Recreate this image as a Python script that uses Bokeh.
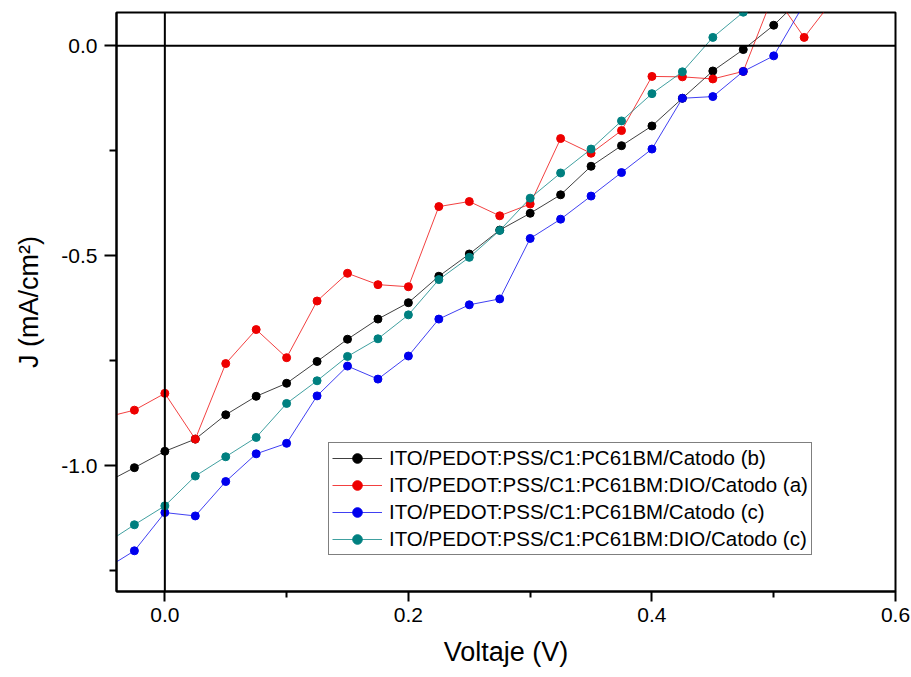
from bokeh.plotting import figure
from bokeh.models import Range1d, FixedTicker, NumeralTickFormatter, Span, Legend, LegendItem
from bokeh.embed import file_html
from bokeh.resources import INLINE

# Voltage (V)
voltaje = [-0.05, -0.025, 0.0, 0.025, 0.05, 0.075, 0.1, 0.125, 0.15, 0.175, 0.2,
           0.225, 0.25, 0.275, 0.3, 0.325, 0.35, 0.375, 0.4, 0.425, 0.45, 0.475,
           0.5, 0.525, 0.55]

# J (mA/cm^2)
j_b = [-1.043, -1.005, -0.966, -0.937, -0.879, -0.835, -0.804, -0.752, -0.699, -0.651,
       -0.612, -0.549, -0.496, -0.439, -0.399, -0.355, -0.287, -0.238, -0.191, -0.125,
       -0.060, -0.009, 0.049, 0.12]
j_a = [-0.886, -0.868, -0.828, -0.937, -0.757, -0.676, -0.743, -0.608, -0.542, -0.569,
       -0.574, -0.383, -0.371, -0.405, -0.377, -0.221, -0.256, -0.202, -0.073, -0.074,
       -0.079, -0.061, 0.124, 0.020, 0.114]
j_c1 = [-1.248, -1.203, -1.112, -1.120, -1.038, -0.972, -0.947, -0.834, -0.763, -0.794,
        -0.739, -0.651, -0.617, -0.603, -0.459, -0.413, -0.358, -0.302, -0.246, -0.125,
        -0.121, -0.061, -0.024, 0.10]
j_c2 = [-1.188, -1.141, -1.096, -1.025, -0.979, -0.933, -0.852, -0.798, -0.740, -0.698,
        -0.641, -0.557, -0.504, -0.440, -0.363, -0.303, -0.246, -0.179, -0.114, -0.062,
        0.020, 0.080]

labels = ["ITO/PEDOT:PSS/C1:PC61BM/Catodo (b)",
          "ITO/PEDOT:PSS/C1:PC61BM:DIO/Catodo (a)",
          "ITO/PEDOT:PSS/C1:PC61BM/Catodo (c)",
          "ITO/PEDOT:PSS/C1:PC61BM:DIO/Catodo (c)"]
colors = ["#000000", "#ee0000", "#0000ee", "#008080"]
series = [j_b, j_a, j_c1, j_c2]

x_ticks = [0.0, 0.2, 0.4, 0.6]
x_minor = [0.1, 0.3, 0.5]
y_ticks = [-1.0, -0.5, 0.0]
y_minor = [-1.25, -0.75, -0.25]

FONT = "Liberation Sans"

p = figure(width=911, height=677, output_backend="svg", toolbar_location=None,
           x_range=Range1d(-0.0397, 0.6), y_range=Range1d(-1.3, 0.0793),
           min_border_left=116, min_border_right=16, min_border_top=12, min_border_bottom=86)
p.background_fill_color = "white"
p.border_fill_color = "white"
p.xgrid.visible = False
p.ygrid.visible = False
p.outline_line_color = "black"
p.outline_line_width = 2

p.add_layout(Span(location=0, dimension="height", line_color="black", line_width=2))
p.add_layout(Span(location=0, dimension="width", line_color="black", line_width=2))

items = []
for lab, col, ys in zip(labels, colors, series):
    xs = voltaje[:len(ys)]
    r1 = p.line(xs, ys, line_color=col, line_width=1, line_alpha=0.75)
    r2 = p.scatter(xs, ys, marker="circle", size=8, fill_color=col, line_color=col)
    items.append(LegendItem(label=lab, renderers=[r1, r2]))

legend = Legend(items=items, location=(212, 36), margin=0, padding=3, spacing=3,
                label_height=24, glyph_height=24, glyph_width=50, label_standoff=7,
                label_text_font=FONT, label_text_font_size="20.5px", label_text_color="black",
                border_line_color="black", border_line_width=1, background_fill_alpha=1)
p.add_layout(legend)

for ax in (p.xaxis[0], p.yaxis[0]):
    ax.axis_line_width = 2
    ax.major_tick_line_width = 2
    ax.minor_tick_line_width = 2
    ax.major_tick_in = 0
    ax.minor_tick_in = 0
    ax.major_label_text_font = FONT
    ax.major_label_text_font_size = "21px"
    ax.major_label_text_color = "black"
    ax.axis_label_text_font = FONT
    ax.axis_label_text_font_style = "normal"
    ax.axis_label_text_font_size = "27px"
    ax.axis_label_text_color = "black"
    ax.formatter = NumeralTickFormatter(format="0.0")

p.xaxis[0].ticker = FixedTicker(ticks=x_ticks, minor_ticks=x_minor)
p.yaxis[0].ticker = FixedTicker(ticks=y_ticks, minor_ticks=y_minor)
p.xaxis[0].major_tick_out = 10
p.xaxis[0].minor_tick_out = 6
p.yaxis[0].major_tick_out = 12
p.yaxis[0].minor_tick_out = 7
p.xaxis[0].major_label_standoff = 6
p.yaxis[0].major_label_standoff = 7
p.xaxis[0].axis_label = "Voltaje (V)"
p.yaxis[0].axis_label = "J (mA/cm²)"
p.xaxis[0].axis_label_standoff = 12
p.yaxis[0].axis_label_standoff = 14

open("out.html", "w").write(file_html(p, INLINE))
